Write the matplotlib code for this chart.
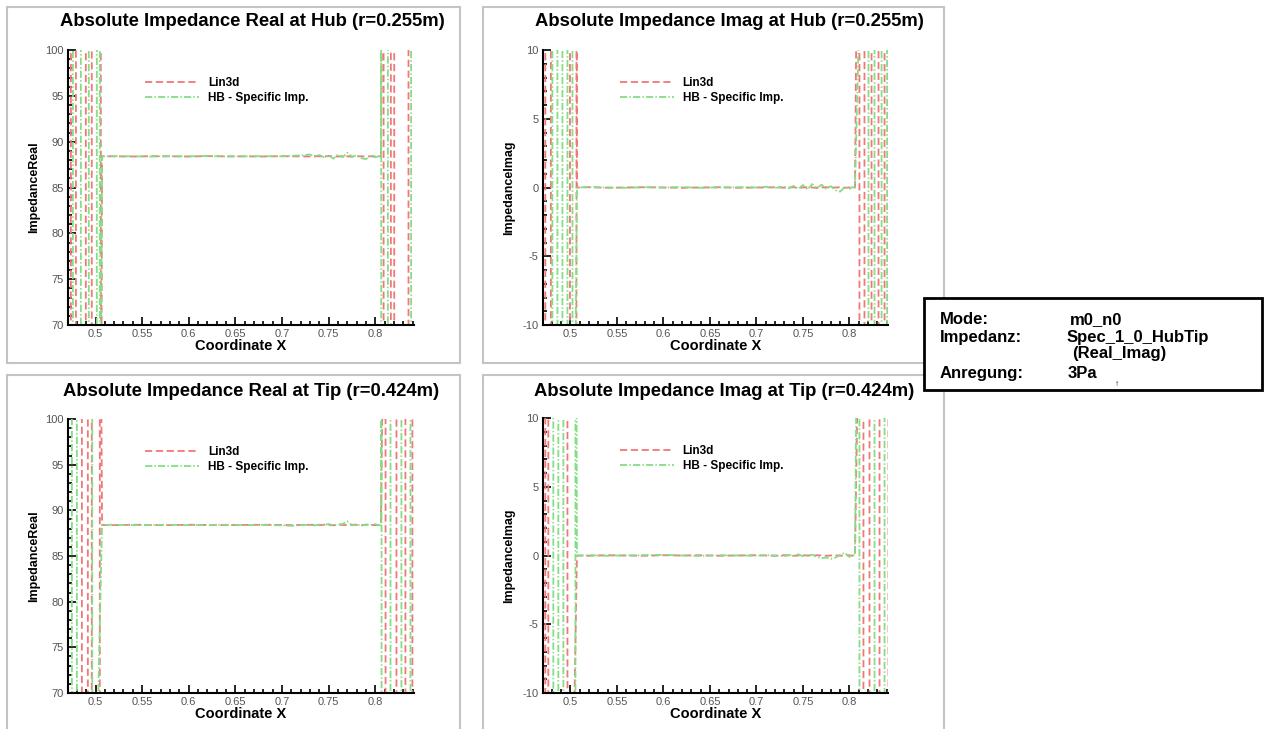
import matplotlib.pyplot as plt
from matplotlib.patches import Rectangle
from matplotlib.ticker import MultipleLocator

plt.rcParams['font.family'] = ['Liberation Sans', 'DejaVu Sans']
plt.rcParams['axes.unicode_minus'] = False

RED = '#f07878'
GREEN = '#84de84'

# x positions along the plateau (shared by every series)
plat_x = [0.507, 0.52, 0.54, 0.56, 0.58, 0.60, 0.62, 0.64, 0.66, 0.68, 0.70, 0.71, 0.72, 0.73,
          0.735, 0.74, 0.745, 0.75, 0.755, 0.76, 0.765, 0.77, 0.775, 0.78, 0.785, 0.79, 0.795,
          0.80, 0.803, 0.806]

# plateau values
hub_real_lin = [88.4, 88.4, 88.38, 88.42, 88.4, 88.38, 88.42, 88.4, 88.4, 88.38, 88.42, 88.4, 88.4,
                88.38, 88.42, 88.4, 88.36, 88.44, 88.4, 88.38, 88.42, 88.4, 88.36, 88.42, 88.4, 88.38,
                88.4, 88.42, 88.38, 88.4]
hub_real_hb = [88.4, 88.42, 88.4, 88.38, 88.42, 88.4, 88.44, 88.38, 88.4, 88.42, 88.4, 88.45, 88.5,
               88.6, 88.35, 88.55, 88.3, 88.5, 88.15, 88.6, 88.3, 88.8, 88.35, 88.5, 88.2, 88.1,
               88.45, 88.3, 88.4, 88.45]
hub_imag_lin = [0.0, 0.02, -0.02, 0.0, 0.02, 0.0, -0.02, 0.0, 0.02, -0.02, 0.0, 0.0, 0.02, -0.02,
                0.0, 0.02, -0.02, 0.0, 0.02, 0.0, -0.03, 0.0, 0.02, -0.02, 0.0, 0.02, -0.02, 0.0,
                0.02, 0.0]
hub_imag_hb = [0.0, 0.03, 0.0, -0.02, 0.02, 0.0, 0.03, -0.02, 0.0, 0.02, 0.0, 0.05, -0.03, 0.08,
               -0.05, 0.12, -0.1, 0.18, -0.15, 0.25, -0.05, 0.2, -0.1, 0.1, -0.2, -0.3, 0.05, -0.1,
               0.02, 0.0]
tip_real_lin = [88.4, 88.38, 88.42, 88.4, 88.38, 88.42, 88.4, 88.38, 88.4, 88.42, 88.4, 88.38,
                88.4, 88.42, 88.4, 88.38, 88.42, 88.4, 88.36, 88.42, 88.4, 88.38, 88.42, 88.4,
                88.38, 88.42, 88.4, 88.38, 88.4, 88.4]
tip_real_hb = [88.4, 88.42, 88.38, 88.4, 88.42, 88.38, 88.4, 88.42, 88.38, 88.4, 88.35, 88.3,
               88.38, 88.4, 88.35, 88.45, 88.4, 88.5, 88.35, 88.45, 88.5, 88.8, 88.35, 88.5, 88.3,
               88.45, 88.4, 88.5, 88.35, 88.4]
tip_imag_lin = [0.0, -0.02, 0.02, 0.0, -0.02, 0.02, 0.0, 0.02, -0.02, 0.0, 0.02, 0.0, -0.02, 0.02,
                0.0, -0.02, 0.0, 0.02, 0.0, -0.02, 0.02, 0.0, -0.02, 0.0, 0.02, -0.02, 0.0, 0.02,
                -0.02, 0.0]
tip_imag_hb = [0.0, 0.02, -0.02, 0.0, 0.03, 0.05, 0.0, -0.03, 0.02, 0.0, -0.02, 0.03, 0.0, -0.05,
               0.05, -0.03, 0.08, -0.05, 0.0, 0.06, -0.1, -0.2, -0.15, -0.25, -0.15, 0.05, 0.2,
               -0.1, 0.05, 0.0]

# x positions where the solution runs off-scale near the inlet / outlet
hub_real_lin_l = [0.4736, 0.479, 0.4896, 0.496, 0.5057]
hub_real_lin_r = [0.8089, 0.8167, 0.8203, 0.8356]
hub_real_hb_l = [0.4758, 0.4843, 0.4928, 0.5014, 0.5046]
hub_real_hb_r = [0.8064, 0.8135, 0.8384]
hub_imag_lin_l = [0.473, 0.479, 0.4995, 0.5065]
hub_imag_lin_r = [0.8108, 0.8162, 0.8238, 0.8313, 0.8378]
hub_imag_hb_l = [0.4806, 0.486, 0.4914, 0.4968, 0.5022]
hub_imag_hb_r = [0.8205, 0.827, 0.8346, 0.8405]
tip_real_lin_l = [0.4854, 0.4918, 0.496, 0.5046]
tip_real_lin_r = [0.811, 0.8227, 0.8323, 0.8398]
tip_real_hb_l = [0.4747, 0.48, 0.4965]
tip_real_hb_r = [0.8067, 0.8163, 0.828, 0.8377]
tip_imag_lin_l = [0.473, 0.4762, 0.4968]
tip_imag_lin_r = [0.8151, 0.8216, 0.8324, 0.842]
tip_imag_hb_l = [0.4816, 0.487, 0.4924, 0.5054]
tip_imag_hb_r = [0.8108, 0.827, 0.8378]

real_off = (40.0, 130.0)
imag_off = (-40.0, 40.0)


def series(left, py, right, off):
    lo, hi = off
    xs, ys = [], []
    for i, x in enumerate(left):
        xs += [x, x]
        ys += [hi, lo] if i % 2 == 0 else [lo, hi]
    xs += plat_x
    ys += py
    for i, x in enumerate(right):
        xs += [x, x]
        ys += [hi, lo] if i % 2 == 0 else [lo, hi]
    return xs, ys


fig = plt.figure(figsize=(12.72, 7.29), dpi=100)
W, H = 1272, 729


def px_axes(l, t, r, b):
    return fig.add_axes([l / W, 1 - b / H, (r - l) / W, (b - t) / H])


# light panel frames
for (l, t, r, b) in [(7, 7, 460, 363), (483, 7, 944, 363), (7, 375, 460, 735), (483, 375, 944, 735)]:
    fig.patches.append(Rectangle((l / W, 1 - b / H), (r - l) / W, (b - t) / H, transform=fig.transFigure,
                                 fill=False, edgecolor='#c4c4c4', linewidth=1.5))

panels = [
    dict(box=(68, 50, 414, 325), title='Absolute Impedance Real at Hub (r=0.255m)', tx=252, ty=22,
         ylabel='ImpedanceReal', ylim=(70, 100), major=5, off=real_off,
         lin=(hub_real_lin_l, hub_real_lin, hub_real_lin_r), hb=(hub_real_hb_l, hub_real_hb, hub_real_hb_r)),
    dict(box=(543, 50, 888, 325), title='Absolute Impedance Imag at Hub (r=0.255m)', tx=729, ty=22,
         ylabel='ImpedanceImag', ylim=(-10, 10), major=5, off=imag_off,
         lin=(hub_imag_lin_l, hub_imag_lin, hub_imag_lin_r), hb=(hub_imag_hb_l, hub_imag_hb, hub_imag_hb_r)),
    dict(box=(68, 419, 414, 693), title='Absolute Impedance Real at Tip (r=0.424m)', tx=251, ty=391,
         ylabel='ImpedanceReal', ylim=(70, 100), major=5, off=real_off,
         lin=(tip_real_lin_l, tip_real_lin, tip_real_lin_r), hb=(tip_real_hb_l, tip_real_hb, tip_real_hb_r)),
    dict(box=(543, 418, 888, 693), title='Absolute Impedance Imag at Tip (r=0.424m)', tx=724, ty=391,
         ylabel='ImpedanceImag', ylim=(-10, 10), major=5, off=imag_off,
         lin=(tip_imag_lin_l, tip_imag_lin, tip_imag_lin_r), hb=(tip_imag_hb_l, tip_imag_hb, tip_imag_hb_r)),
]

for p in panels:
    ax = px_axes(*p['box'])
    lx, ly = series(p['lin'][0], p['lin'][1], p['lin'][2], p['off'])
    hx, hy = series(p['hb'][0], p['hb'][1], p['hb'][2], p['off'])
    ax.plot(lx, ly, color=RED, lw=1.3, dashes=(4, 2), label='Lin3d')
    ax.plot(hx, hy, color=GREEN, lw=1.3, dashes=(4, 1.2, 0.8, 1.2), label='HB - Specific Imp.')
    ax.set_xlim(0.4705, 0.8415)
    ax.set_ylim(*p['ylim'])
    ax.xaxis.set_major_locator(MultipleLocator(0.05))
    ax.xaxis.set_minor_locator(MultipleLocator(0.01))
    ax.yaxis.set_major_locator(MultipleLocator(p['major']))
    ax.yaxis.set_minor_locator(MultipleLocator(1))
    ax.set_xticks([0.5, 0.55, 0.6, 0.65, 0.7, 0.75, 0.8])
    ax.set_xticklabels(['0.5', '0.55', '0.6', '0.65', '0.7', '0.75', '0.8'])
    ax.tick_params(which='both', direction='in', top=False, right=False, labelsize=8,
                   labelcolor='#555555', width=1.2)
    ax.tick_params(which='major', length=6, pad=3)
    ax.tick_params(which='minor', length=3)
    for s in ('top', 'right'):
        ax.spines[s].set_visible(False)
    for s in ('left', 'bottom'):
        ax.spines[s].set_linewidth(1.5)
    ax.set_xlabel('Coordinate X', fontsize=10.5, fontweight='bold')
    ax.xaxis.set_label_coords(0.5, -0.05)
    ax.set_ylabel(p['ylabel'], fontsize=9, fontweight='bold')
    ax.yaxis.set_label_coords(-0.082, 0.5)
    ax.legend(loc='upper left', bbox_to_anchor=(0.222, 0.9), frameon=False, borderpad=0,
              borderaxespad=0, handlelength=4.6, handletextpad=0.75, labelspacing=0.2,
              prop={'weight': 'bold', 'size': 8.5})
    fig.text(p['tx'] / W, 1 - p['ty'] / H, p['title'], ha='center', va='center',
             fontsize=13.3, fontweight='bold')

# info box
fig.patches.append(Rectangle((924 / W, 1 - 390 / H), (1262 - 924) / W, (390 - 298) / H,
                             transform=fig.transFigure, facecolor='white', edgecolor='black',
                             linewidth=2, zorder=5))
info_keys = ['Mode:', 'Impedanz:', '', 'Anregung:']
info_vals = ['m0_n0', 'Spec_1_0_HubTip', '(Real_Imag)', '3Pa']
info_y = [324, 342, 358, 378]
info_vx = [1070, 1067, 1072, 1068]
for key, val, y, vx in zip(info_keys, info_vals, info_y, info_vx):
    if key:
        fig.text(940 / W, 1 - y / H, key, ha='left', va='baseline', fontsize=12, fontweight='bold', zorder=6)
    fig.text(vx / W, 1 - y / H, val, ha='left', va='baseline', fontsize=12, fontweight='bold', zorder=6)
fig.text(1117 / W, 1 - 384 / H, '↑', ha='center', va='center', fontsize=6, zorder=6)

fig.savefig('out.png', dpi=100)
